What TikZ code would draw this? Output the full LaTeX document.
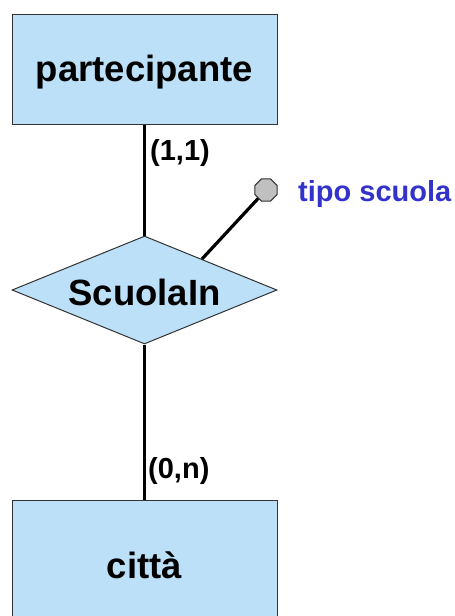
\documentclass[tikz,border=0pt]{standalone}
\usepackage{fontspec}
\setmainfont{Liberation Sans}
\usetikzlibrary{shapes.geometric}
\definecolor{entfill}{RGB}{187,224,247}
\definecolor{attblue}{RGB}{51,51,204}
\definecolor{attgray}{RGB}{192,192,192}
\begin{document}
\begin{tikzpicture}[x=1pt,y=-1pt,
  entity/.style={draw=black!80, line width=1pt, fill=entfill, rectangle, inner sep=0pt},
  rel/.style={draw=black!80, line width=1pt, fill=entfill, diamond, inner sep=0pt, aspect=2.45, minimum width=265pt, minimum height=108pt},
  conn/.style={line width=3.2pt},
  big/.style={font=\fontsize{36.5}{40}\selectfont\bfseries},
  card/.style={font=\fontsize{29}{32}\selectfont\bfseries, inner sep=0pt, anchor=west},
  attr/.style={regular polygon, regular polygon sides=8, draw=black!80, line width=1pt, fill=attgray, minimum size=24pt, inner sep=0pt}
]
\useasboundingbox (0,0) rectangle (455,616);
\node[entity, minimum width=265pt, minimum height=110pt] (p) at (144.5,69) {};
\node[big] at (144.5,72) {partecipante};
\node[rel] (s) at (144.5,290) {};
\node[big] at (144.5,292) {ScuolaIn};
\node[entity, minimum width=265pt, minimum height=140pt] (c) at (144.5,570) {};
\node[big] at (144.5,565) {città};
\draw[conn] (p.south) -- (s.north);
\draw[conn] (s.south) -- (c.north);
\node[attr] (a) at (266,190) {};
\coordinate (sa) at (202,259);
\draw[conn] (sa) -- (a);
\node[card] (l1) at (150,153) {(1,1)};
\node[card] (l2) at (148,471) {(0,n)};
\node[font=\fontsize{29}{32}\selectfont\bfseries, text=attblue, inner sep=0pt, anchor=west] (at) at (298,194) {tipo scuola};
\end{tikzpicture}
\end{document}
